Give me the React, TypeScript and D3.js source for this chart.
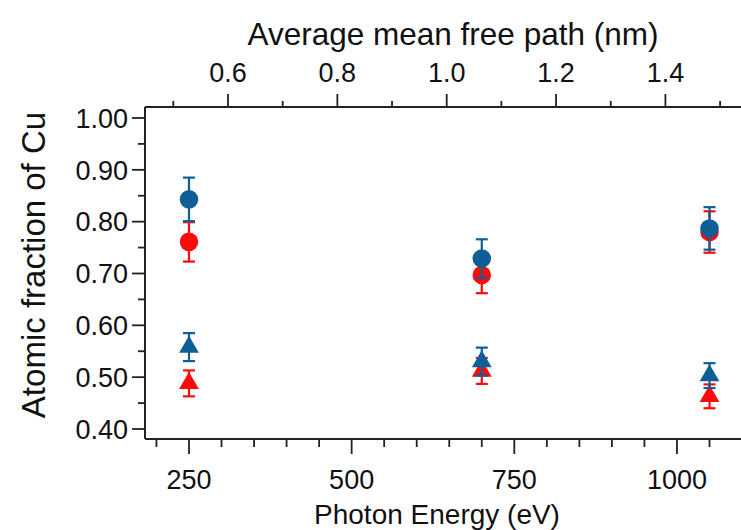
import React from "react";
import * as d3 from "d3";

// ---- data ----
const energies = [250, 700, 1050];
const blueCircle = [0.843, 0.729, 0.787];
const blueCircleErr = [0.042, 0.037, 0.041];
const redCircle = [0.761, 0.697, 0.78];
const redCircleErr = [0.038, 0.035, 0.04];
const blueTriangle = [0.558, 0.53, 0.503];
const blueTriangleErr = [0.027, 0.027, 0.024];
const redTriangle = [0.488, 0.512, 0.463];
const redTriangleErr = [0.025, 0.025, 0.023];

const yMajor = [0.4, 0.5, 0.6, 0.7, 0.8, 0.9, 1.0];
const yMinor = [0.45, 0.55, 0.65, 0.75, 0.85, 0.95];
const xMajor = [250, 500, 750, 1000];
const xMinor = [200, 300, 350, 400, 450, 550, 600, 650, 700, 800, 850, 900, 950, 1050, 1100];
const topMajor = [0.6, 0.8, 1.0, 1.2, 1.4];
const topMinor = [0.5, 0.7, 0.9, 1.1, 1.3, 1.5];

const BLUE = "#0f5f97";
const RED = "#ff0a0a";
const AX = "#222";
const FONT = "'Liberation Sans', Arial, Helvetica, sans-serif";

const W = 741;
const H = 530;
const L = 145, R = 760, T = 107, B = 439;

const x = d3.scaleLinear().domain([182.4, 1127.6]).range([L, R]);
const xTop = d3.scaleLinear().domain([0.4482, 1.573]).range([L, R]);
const y = d3.scaleLinear().domain([0.3807, 1.0212]).range([B, T]);

const circlePath = d3.symbol(d3.symbolCircle, 270)() as string;
const triPath = d3.symbol(d3.symbolTriangle, 170)() as string;

type Series = { vals: number[]; errs: number[]; color: string; shape: string };
const series: Series[] = [
  { vals: redCircle, errs: redCircleErr, color: RED, shape: circlePath },
  { vals: redTriangle, errs: redTriangleErr, color: RED, shape: triPath },
  { vals: blueCircle, errs: blueCircleErr, color: BLUE, shape: circlePath },
  { vals: blueTriangle, errs: blueTriangleErr, color: BLUE, shape: triPath },
];

export default function App() {
  const cap = 6;
  return (
    <svg width={W} height={H} style={{ position: "absolute", left: 0, top: 0, background: "#fff" }}
      fontFamily={FONT}>
      {/* axes lines */}
      <line x1={L} x2={R} y1={B} y2={B} stroke={AX} strokeWidth={2} />
      <line x1={L} x2={R} y1={T} y2={T} stroke={AX} strokeWidth={2} />
      <line x1={L} x2={L} y1={T} y2={B} stroke={AX} strokeWidth={2} />

      {/* left ticks */}
      {yMajor.map((v) => (
        <g key={"ym" + v}>
          <line x1={L - 13} x2={L} y1={y(v)} y2={y(v)} stroke={AX} strokeWidth={1.8} />
          <text x={L - 17} y={y(v)} dy="0.36em" textAnchor="end" fontSize={27} fill="#111">
            {d3.format(".2f")(v)}
          </text>
        </g>
      ))}
      {yMinor.map((v) => (
        <line key={"yn" + v} x1={L - 7} x2={L} y1={y(v)} y2={y(v)} stroke={AX} strokeWidth={1.8} />
      ))}

      {/* bottom ticks */}
      {xMajor.map((v) => (
        <g key={"xm" + v}>
          <line x1={x(v)} x2={x(v)} y1={B} y2={B + 15} stroke={AX} strokeWidth={1.8} />
          <text x={x(v)} y={B + 50} textAnchor="middle" fontSize={27} fill="#111">{v}</text>
        </g>
      ))}
      {xMinor.map((v) => (
        <line key={"xn" + v} x1={x(v)} x2={x(v)} y1={B} y2={B + 8} stroke={AX} strokeWidth={1.8} />
      ))}

      {/* top ticks */}
      {topMajor.map((v) => (
        <g key={"tm" + v}>
          <line x1={xTop(v)} x2={xTop(v)} y1={T} y2={T - 13} stroke={AX} strokeWidth={1.8} />
          <text x={xTop(v)} y={T - 25} textAnchor="middle" fontSize={27} fill="#111">
            {d3.format(".1f")(v)}
          </text>
        </g>
      ))}
      {topMinor.map((v) => (
        <line key={"tn" + v} x1={xTop(v)} x2={xTop(v)} y1={T} y2={T - 6} stroke={AX} strokeWidth={1.8} />
      ))}

      {/* titles */}
      <text x={453} y={45} textAnchor="middle" fontSize={31.5} fill="#111">Average mean free path (nm)</text>
      <text x={437} y={524} textAnchor="middle" fontSize={28} fill="#111">Photon Energy (eV)</text>
      <text transform={`translate(45,${265}) rotate(-90)`} textAnchor="middle" fontSize={33} fill="#111">
        Atomic fraction of Cu
      </text>

      {/* data */}
      {series.map((s, si) => (
        <g key={"s" + si}>
          {s.vals.map((v, i) => {
            const cx = x(energies[i]);
            const y1 = y(v + s.errs[i]);
            const y2 = y(v - s.errs[i]);
            return (
              <g key={i} stroke={s.color} strokeWidth={2.2}>
                <line x1={cx} x2={cx} y1={y1} y2={y2} />
                <line x1={cx - cap} x2={cx + cap} y1={y1} y2={y1} />
                <line x1={cx - cap} x2={cx + cap} y1={y2} y2={y2} />
                <path d={s.shape} transform={`translate(${cx},${y(v)})`} fill={s.color} stroke="none" />
              </g>
            );
          })}
        </g>
      ))}
    </svg>
  );
}
